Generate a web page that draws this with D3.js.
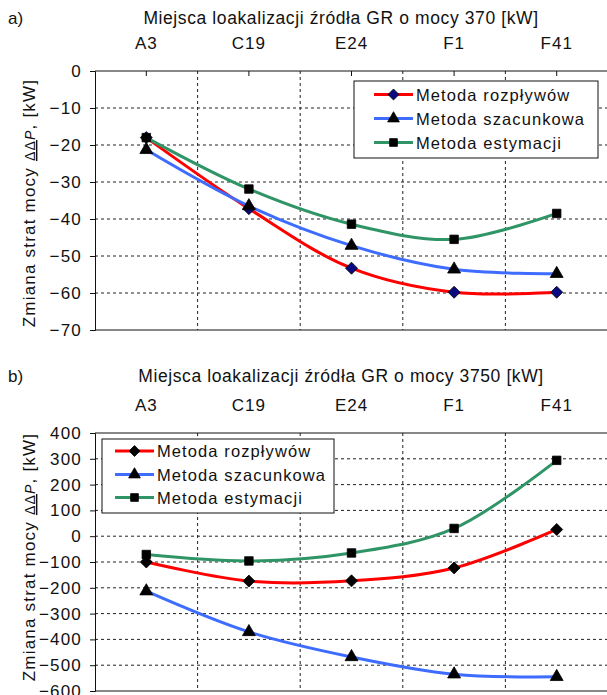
<!DOCTYPE html>
<html>
<head>
<meta charset="utf-8">
<script src="https://cdn.jsdelivr.net/npm/d3@7"></script>
<style>
  html, body { margin: 0; padding: 0; background: #fff; }
  svg text { font-family: "Liberation Sans", Arial, sans-serif; fill: #111; }
</style>
</head>
<body>
<svg id="chart" width="607" height="695"></svg>
<script>
// categories and series
const categories = ["A3", "C19", "E24", "F1", "F41"];
const seriesNames = ["Metoda rozpływów", "Metoda szacunkowa", "Metoda estymacji"];

const aRozplywow = [-18, -37.2, -53.3, -59.8, -59.8];
const aSzacunkowa = [-21.3, -36.5, -47.2, -53.6, -54.8];
const aEstymacji = [-18, -31.9, -41.4, -45.5, -38.5];
const aTicks = [0, -10, -20, -30, -40, -50, -60, -70];

const bRozplywow = [-100, -174, -173, -123, 26];
const bSzacunkowa = [-213, -371, -468, -535, -545];
const bEstymacji = [-71, -96, -65, 30, 294];
const bTicks = [400, 300, 200, 100, 0, -100, -200, -300, -400, -500, -600];

const colors = ["#ff0000", "#3d6cff", "#2f9566"];

// diamond = square turned 45deg, looks closer to the Excel marker than d3's thin diamond
const diamond = {
  draw(ctx, size) {
    const r = Math.sqrt(size / 2);
    ctx.moveTo(0, -r); ctx.lineTo(r, 0); ctx.lineTo(0, r); ctx.lineTo(-r, 0); ctx.closePath();
  }
};
const symbols = [diamond, d3.symbolTriangle, d3.symbolSquare];
const symSize = [72, 72, 72];

const svg = d3.select("#chart");

function drawPanel(cfg) {
  const g = svg.append("g");
  const x = d3.scaleBand().domain(categories).range([cfg.left, cfg.right]);
  const y = d3.scaleLinear().domain(cfg.domain).range([cfg.bottom, cfg.top]);
  const cx = d => x(d) + x.bandwidth() / 2;

  // panel letter + title + category labels on top
  g.append("text").attr("x", 8).attr("y", cfg.titleY)
    .attr("font-size", 17).text(cfg.letter);
  g.append("text").attr("x", 341).attr("y", cfg.titleY)
    .attr("text-anchor", "middle").attr("font-size", 17.5)
    .attr("letter-spacing", 0.6).text(cfg.title);
  g.selectAll(".cat").data(categories).join("text")
    .attr("x", cx).attr("y", cfg.catY)
    .attr("text-anchor", "middle").attr("font-size", 17)
    .attr("letter-spacing", 1).text(d => d);

  // dashed grid
  g.selectAll(".hg").data(cfg.ticks.filter(t => t !== cfg.domain[0] && t !== cfg.domain[1])).join("line")
    .attr("x1", cfg.left).attr("x2", cfg.right)
    .attr("y1", d => y(d)).attr("y2", d => y(d))
    .attr("stroke", "#222").attr("stroke-dasharray", "3,3");
  g.selectAll(".vg").data(categories.slice(1)).join("line")
    .attr("x1", d => x(d)).attr("x2", d => x(d))
    .attr("y1", cfg.top).attr("y2", cfg.bottom)
    .attr("stroke", "#222").attr("stroke-dasharray", "3,3");

  // axes frame
  g.append("line").attr("x1", cfg.left).attr("x2", cfg.right)
    .attr("y1", cfg.top).attr("y2", cfg.top).attr("stroke", "#111");
  g.append("line").attr("x1", cfg.left).attr("x2", cfg.right)
    .attr("y1", cfg.bottom).attr("y2", cfg.bottom).attr("stroke", "#111");

  const yAxis = g.append("g").attr("transform", `translate(${cfg.left},0)`)
    .call(d3.axisLeft(y).tickValues(cfg.ticks).tickSize(5).tickPadding(8).tickFormat(d3.format("d")));
  yAxis.select(".domain").attr("stroke", "#111");
  yAxis.selectAll(".tick line").attr("stroke", "#111");
  yAxis.selectAll("text").attr("font-size", 17).attr("letter-spacing", 1.2)
    .attr("font-family", null).style("fill", "#111");

  if (cfg.topTicks) {
    g.selectAll(".tt").data(categories).join("line")
      .attr("x1", cx).attr("x2", cx)
      .attr("y1", cfg.top).attr("y2", cfg.top + 5).attr("stroke", "#111");
  }

  // y label
  const lab = g.append("text")
    .attr("transform", `translate(35,${cfg.labelY}) rotate(-90)`)
    .attr("text-anchor", "middle").attr("font-size", 17).attr("letter-spacing", 1.2);
  lab.append("tspan").text("Zmiana strat mocy  ");
  lab.append("tspan").attr("text-decoration", "underline").attr("font-size", 14).text("ΔΔ");
  lab.append("tspan").attr("font-style", "italic").attr("font-size", 14).text("P");
  lab.append("tspan").text(", [kW]");

  // series
  const line = d3.line()
    .x((d, i) => cx(categories[i]))
    .y(d => y(d))
    .curve(d3.curveCatmullRom.alpha(0.5));

  cfg.series.forEach((vals, si) => {
    g.append("path").datum(vals)
      .attr("d", line).attr("fill", "none")
      .attr("stroke", colors[si]).attr("stroke-width", 3);
  });
  cfg.series.forEach((vals, si) => {
    g.selectAll(".m" + si).data(vals).join("path")
      .attr("transform", (d, i) => `translate(${cx(categories[i])},${y(d)})`)
      .attr("d", d3.symbol(symbols[si], symSize[si]))
      .attr("fill", si === 0 ? cfg.diamondFill : "#000")
      .attr("stroke", "#000").attr("stroke-width", 0.8);
  });

  // legend
  const L = cfg.legend;
  const lg = g.append("g");
  lg.append("rect").attr("x", L.x).attr("y", L.y).attr("width", L.w).attr("height", L.h)
    .attr("fill", "#fff").attr("stroke", "#111");
  seriesNames.forEach((name, si) => {
    const cy = L.rowY[si];
    lg.append("line").attr("x1", L.lineX).attr("x2", L.lineX + 39)
      .attr("y1", cy).attr("y2", cy).attr("stroke", colors[si]).attr("stroke-width", 3);
    lg.append("path").attr("transform", `translate(${L.lineX + 19.5},${cy})`)
      .attr("d", d3.symbol(symbols[si], 60))
      .attr("fill", si === 0 ? cfg.diamondFill : "#000")
      .attr("stroke", "#000").attr("stroke-width", 0.8);
    lg.append("text").attr("x", L.lineX + 42).attr("y", cy + 6)
      .attr("font-size", 16.5).attr("letter-spacing", 1.1).text(name);
  });
}

drawPanel({
  letter: "a)", title: "Miejsca loakalizacji źródła GR o mocy 370 [kW]",
  titleY: 24, catY: 49, left: 95, right: 608, top: 71, bottom: 330,
  domain: [-70, 0], ticks: aTicks, labelY: 203, topTicks: true,
  series: [aRozplywow, aSzacunkowa, aEstymacji], diamondFill: "#0a0a80",
  legend: { x: 354, y: 81, w: 244, h: 77, lineX: 374, rowY: [94.5, 118.5, 142.5] }
});

drawPanel({
  letter: "b)", title: "Miejsca loakalizacji źródła GR o mocy 3750 [kW]",
  titleY: 382, catY: 411, left: 95, right: 608, top: 433, bottom: 691,
  domain: [-600, 400], ticks: bTicks, labelY: 557, topTicks: false,
  series: [bRozplywow, bSzacunkowa, bEstymacji], diamondFill: "#000",
  legend: { x: 102, y: 439, w: 232, h: 74, lineX: 115, rowY: [451, 474.5, 497.5] }
});
</script>
</body>
</html>
